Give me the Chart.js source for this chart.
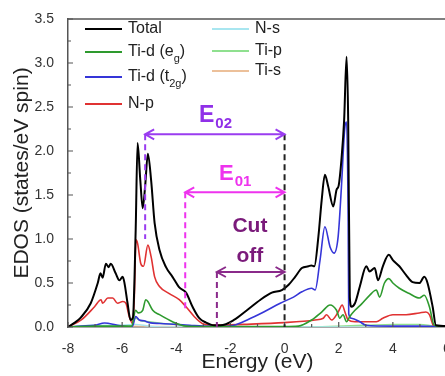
<!DOCTYPE html>
<html>
<head>
<meta charset="utf-8">
<script src="https://cdn.jsdelivr.net/npm/chart.js@4.4.1/dist/chart.umd.min.js"></script>
<style>
html, body { margin: 0; padding: 0; overflow: hidden; background: #fff; }
canvas { display: block; }
</style>
</head>
<body>
<canvas id="dos" width="470" height="376"></canvas>
<script>
// values (energy in eV, EDOS in states/eV spin)
const totalE = [-8, -7.75, -7.52, -7.16, -6.9, -6.8, -6.72, -6.6, -6.5, -6.42, -6.24, -6.1, -5.98, -5.92, -5.8, -5.69, -5.6, -5.5, -5.43, -5.33, -5.24, -5.15, -5.05, -4.93, -4.8, -4.62, -4.38, -4.14, -3.89, -3.64, -3.4, -3.15, -2.9, -2.6, -2.36, -1.87, -1.39, -0.89, -0.47, -0.1, 0.15, 0.39, 0.64, 0.88, 0.99, 1.1, 1.25, 1.37, 1.49, 1.61, 1.8, 1.92, 2.0, 2.1, 2.2, 2.29, 2.35, 2.41, 2.47, 2.6, 2.78, 3.02, 3.14, 3.33, 3.45, 3.63, 3.85, 4.0, 4.24, 4.49, 4.73, 4.98, 5.16, 5.28, 5.47, 5.59, 6];
const totalDos = [0, 0.05, 0.11, 0.27, 0.5, 0.61, 0.56, 0.72, 0.68, 0.72, 0.61, 0.53, 0.57, 0.51, 0.27, 0.08, 0.11, 1.1, 2.09, 1.67, 1.35, 1.6, 1.97, 1.67, 1.18, 0.875, 0.68, 0.57, 0.45, 0.39, 0.23, 0.1, 0.05, 0.02, 0.02, 0.08, 0.19, 0.31, 0.39, 0.42, 0.48, 0.57, 0.67, 0.69, 0.7, 0.69, 1.03, 1.44, 1.73, 1.6, 1.37, 1.56, 1.61, 1.9, 2.35, 3.07, 2.35, 0.34, 0.23, 0.27, 0.46, 0.69, 0.63, 0.67, 0.53, 0.69, 0.82, 0.76, 0.69, 0.59, 0.51, 0.5, 0.57, 0.5, 0.23, 0.02, 0.01];

const egE = [-8, -7, -6, -5.65, -5.5, -5.41, -5.24, -5.13, -5.05, -4.87, -4.62, -4.14, -3.64, -3, -2, -1, 0, 0.51, 1.0, 1.37, 1.68, 1.92, 2.04, 2.16, 2.29, 2.41, 2.6, 2.84, 3.14, 3.39, 3.51, 3.69, 3.85, 4.0, 4.24, 4.61, 4.98, 5.16, 5.35, 5.53, 6];
const egDos = [0, 0.01, 0.01, 0.01, 0.19, 0.16, 0.19, 0.31, 0.29, 0.19, 0.14, 0.06, 0.01, 0.005, 0.005, 0.005, 0.005, 0.01, 0.08, 0.17, 0.25, 0.19, 0.1, 0.14, 0.06, 0.12, 0.19, 0.26, 0.36, 0.42, 0.34, 0.5, 0.55, 0.5, 0.44, 0.38, 0.33, 0.36, 0.23, 0.02, 0];

const t2gE = [-8, -7.5, -7.02, -6.65, -6.17, -5.69, -5.6, -5.5, -5.37, -5.19, -5.0, -4.6, -4.0, -3.5, -3.0, -2.4, -1.87, -1.38, -0.77, -0.16, 0.33, 0.64, 1.0, 1.13, 1.31, 1.49, 1.68, 1.83, 1.98, 2.1, 2.23, 2.29, 2.35, 2.37, 2.47, 2.78, 3.0, 4.0, 5.0, 6];
const t2gDos = [0, 0.01, 0.02, 0.045, 0.02, 0.0, 0.02, 0.12, 0.08, 0.07, 0.05, 0.04, 0.03, 0.02, 0.01, 0.005, 0.02, 0.08, 0.17, 0.27, 0.34, 0.4, 0.44, 0.42, 0.76, 1.14, 0.91, 0.84, 1.03, 1.59, 2.28, 2.33, 1.2, 0.15, 0.1, 0.06, 0.02, 0.01, 0.01, 0];

const npE = [-8, -7.51, -7.02, -6.78, -6.72, -6.53, -6.35, -6.17, -5.98, -5.86, -5.74, -5.61, -5.55, -5.49, -5.43, -5.31, -5.21, -5.05, -4.93, -4.8, -4.62, -4.26, -3.89, -3.64, -3.34, -3.04, -2.6, -1.5, 0, 1.12, 1.43, 1.55, 1.74, 1.98, 2.13, 2.23, 2.35, 2.6, 3.39, 3.63, 4.0, 4.49, 4.98, 5.22, 5.35, 5.53, 6];
const npDos = [0, 0.08, 0.23, 0.31, 0.27, 0.33, 0.33, 0.27, 0.29, 0.27, 0.12, 0.04, 0.34, 0.99, 0.95, 0.72, 0.69, 0.93, 0.8, 0.57, 0.46, 0.38, 0.31, 0.23, 0.12, 0.04, 0.02, 0.03, 0.05, 0.08, 0.1, 0.14, 0.08, 0.17, 0.25, 0.17, 0.08, 0.06, 0.06, 0.1, 0.14, 0.14, 0.16, 0.17, 0.14, 0, 0];

const nsE = [-8, -7, -6, -5.5, -5, -4, 0, 6];
const nsDos = [0, 0.02, 0.02, 0.03, 0.01, 0, 0, 0];

const tipE = [-8, -6.5, -5.7, -5.5, -5.3, -5, -4.5, -4, -3.5, -3, 0, 2, 3, 4, 5, 5.5, 6];
const tipDos = [0, 0.01, 0.01, 0.1, 0.07, 0.06, 0.04, 0.03, 0.01, 0, 0, 0.01, 0.02, 0.03, 0.03, 0.01, 0];

const tisE = [-8, -5.5, -4, 0, 3, 6];
const tisDos = [0, 0.01, 0.005, 0, 0.005, 0];

const xTicks = [-8, -6, -4, -2, 0, 2, 4, 6];
const yTicks = [0, 0.5, 1.0, 1.5, 2.0, 2.5, 3.0, 3.5];

const FONT = '"Liberation Sans", Arial, sans-serif';

function pts(xs, ys) {
  return xs.map((x, i) => ({ x: x, y: ys[i] }));
}

function line(label, xs, ys, color, width) {
  return {
    label: label,
    data: pts(xs, ys),
    borderColor: color,
    borderWidth: width,
    pointRadius: 0,
    fill: false,
    cubicInterpolationMode: 'monotone'
  };
}

// legend entries: [main text, subscript, closing text, colour, column, row y]
const legendItems = [
  ['Total', '', '', '#000000', 0, 29],
  ['Ti-d (e', 'g', ')', '#2e9a2e', 0, 52],
  ['Ti-d (t', '2g', ')', '#3535d8', 0, 77],
  ['N-p', '', '', '#e03232', 0, 104],
  ['N-s', '', '', '#a8e6f0', 1, 29],
  ['Ti-p', '', '', '#8fe08f', 1, 51],
  ['Ti-s', '', '', '#ecc09a', 1, 71]
];

function arrow(ctx, x1, x2, y, color) {
  ctx.save();
  ctx.strokeStyle = color;
  ctx.lineWidth = 2;
  ctx.setLineDash([]);
  ctx.beginPath();
  ctx.moveTo(x1, y); ctx.lineTo(x2, y);
  ctx.moveTo(x1 + 9, y - 5); ctx.lineTo(x1, y); ctx.lineTo(x1 + 9, y + 5);
  ctx.moveTo(x2 - 9, y - 5); ctx.lineTo(x2, y); ctx.lineTo(x2 - 9, y + 5);
  ctx.stroke();
  ctx.restore();
}

function dashed(ctx, x, y1, y2, color) {
  ctx.save();
  ctx.strokeStyle = color;
  ctx.lineWidth = 2;
  ctx.setLineDash([6, 4]);
  ctx.beginPath();
  ctx.moveTo(x, y1); ctx.lineTo(x, y2);
  ctx.stroke();
  ctx.restore();
}

function subText(ctx, main, sub, x, y, color, size, subSize, drop) {
  ctx.save();
  ctx.fillStyle = color;
  ctx.textBaseline = 'alphabetic';
  ctx.font = 'bold ' + size + 'px ' + FONT;
  ctx.fillText(main, x, y);
  const w = ctx.measureText(main).width;
  ctx.font = 'bold ' + subSize + 'px ' + FONT;
  ctx.fillText(sub, x + w + 1, y + drop);
  ctx.restore();
}

const decor = {
  id: 'decor',
  afterDatasetsDraw(chart) {
    const ctx = chart.ctx;
    const xs = chart.scales.x, ys = chart.scales.y;
    const a = chart.chartArea;
    const px = v => xs.getPixelForValue(v);
    const py = v => ys.getPixelForValue(v);

    // frame top / right
    ctx.save();
    ctx.strokeStyle = '#555';
    ctx.lineWidth = 1.5;
    ctx.beginPath();
    ctx.moveTo(a.left, a.top); ctx.lineTo(a.right, a.top); ctx.lineTo(a.right, a.bottom);
    ctx.stroke();

    // inward ticks
    ctx.lineWidth = 1.2;
    ctx.beginPath();
    xs.ticks.forEach(t => {
      const x = px(t.value);
      ctx.moveTo(x, a.bottom); ctx.lineTo(x, a.bottom - 5);
      if (t.value + 1 < xs.max) {
        const m = px(t.value + 1);
        ctx.moveTo(m, a.bottom); ctx.lineTo(m, a.bottom - 3);
      }
    });
    ys.ticks.forEach(t => {
      const y = py(t.value);
      ctx.moveTo(a.left, y); ctx.lineTo(a.left + 5, y);
      if (t.value + 0.25 < ys.max) {
        const m = py(t.value + 0.25);
        ctx.moveTo(a.left, m); ctx.lineTo(a.left + 3, m);
      }
    });
    ctx.stroke();
    ctx.restore();

    // energy markers
    dashed(ctx, px(0), py(2.19), py(0), '#222');
    dashed(ctx, px(-5.15), py(2.19), py(1.0), '#9a3cf0');
    dashed(ctx, px(-3.67), py(1.53), py(0.17), '#ee33ee');
    dashed(ctx, px(-2.5), py(0.625), py(0), '#8a2a8a');
    arrow(ctx, px(-5.15), px(0), py(2.19), '#9a3cf0');
    arrow(ctx, px(-3.67), px(0), py(1.53), '#ee33ee');
    arrow(ctx, px(-2.5), px(0), py(0.625), '#8a2a8a');

    subText(ctx, 'E', '02', px(-3.16), py(2.33), '#9030e8', 23, 15, 6);
    subText(ctx, 'E', '01', px(-2.42), py(1.67), '#ee33ee', 22, 15, 6);
    ctx.save();
    ctx.fillStyle = '#7a1a7a';
    ctx.font = 'bold 21px ' + FONT;
    ctx.textAlign = 'center';
    ctx.textBaseline = 'alphabetic';
    ctx.fillText('Cut', px(-1.28), py(1.08));
    ctx.fillText('off', px(-1.28), py(0.74));
    ctx.restore();

    // legend
    ctx.save();
    ctx.textBaseline = 'middle';
    legendItems.forEach(it => {
      const x0 = it[4] === 0 ? 85 : 212;
      const y = it[5];
      ctx.strokeStyle = it[3];
      ctx.lineWidth = 2;
      ctx.beginPath();
      ctx.moveTo(x0, y); ctx.lineTo(x0 + 37, y);
      ctx.stroke();
      ctx.fillStyle = '#222';
      ctx.font = '16px ' + FONT;
      let tx = x0 + 43;
      ctx.fillText(it[0], tx, y);
      tx += ctx.measureText(it[0]).width;
      if (it[1]) {
        ctx.font = '11px ' + FONT;
        ctx.fillText(it[1], tx, y + 7);
        tx += ctx.measureText(it[1]).width;
        ctx.font = '16px ' + FONT;
        ctx.fillText(it[2], tx, y);
      }
    });
    ctx.restore();
  }
};

new Chart(document.getElementById('dos'), {
  type: 'line',
  data: {
    datasets: [
      line('Total', totalE, totalDos, '#000000', 2),
      line('Ti-d (eg)', egE, egDos, '#2e9a2e', 1.6),
      line('Ti-d (t2g)', t2gE, t2gDos, '#3535d8', 1.6),
      line('N-p', npE, npDos, '#e03232', 1.6),
      line('N-s', nsE, nsDos, '#a8e6f0', 1.4),
      line('Ti-p', tipE, tipDos, '#8fe08f', 1.4),
      line('Ti-s', tisE, tisDos, '#ecc09a', 1.4)
    ]
  },
  options: {
    responsive: false,
    animation: false,
    layout: { padding: { left: 0, top: 19, right: 23, bottom: 1 } },
    plugins: {
      legend: { display: false },
      tooltip: { enabled: false }
    },
    scales: {
      x: {
        type: 'linear',
        min: -8,
        max: 6,
        afterBuildTicks: s => { s.ticks = xTicks.map(v => ({ value: v })); },
        afterFit: s => { s.height = 48; },
        grid: { display: false },
        border: { display: true, color: '#555', width: 1.5 },
        ticks: {
          color: '#333',
          padding: 6,
          maxRotation: 0,
          font: { family: FONT, size: 14 },
          callback: v => String(v)
        },
        title: {
          display: true,
          text: 'Energy (eV)',
          color: '#222',
          padding: { top: 0, bottom: 0 },
          font: { family: FONT, size: 21 }
        }
      },
      y: {
        min: 0,
        max: 3.5,
        afterBuildTicks: s => { s.ticks = yTicks.map(v => ({ value: v })); },
        afterFit: s => { s.width = 68; },
        grid: { display: false },
        border: { display: true, color: '#555', width: 1.5 },
        ticks: {
          color: '#333',
          padding: 6,
          font: { family: FONT, size: 14 },
          callback: v => Number(v).toFixed(1)
        },
        title: {
          display: true,
          text: 'EDOS (states/eV spin)',
          color: '#222',
          padding: { top: 10, bottom: 0 },
          font: { family: FONT, size: 21 }
        }
      }
    }
  },
  plugins: [decor]
});
</script>
</body>
</html>
